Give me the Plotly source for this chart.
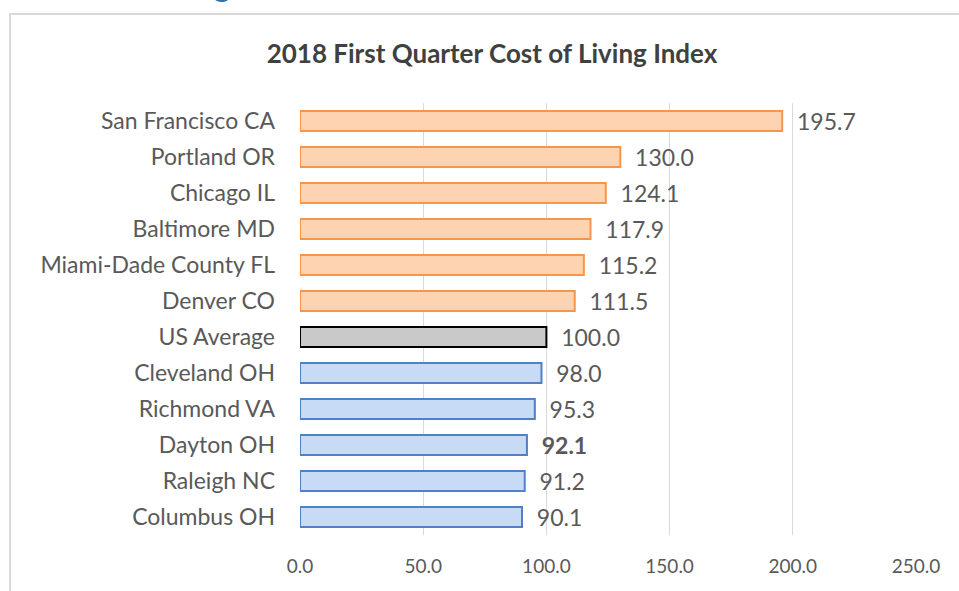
import plotly.graph_objects as go

cities = ["San Francisco CA", "Portland OR", "Chicago IL", "Baltimore MD",
          "Miami-Dade County FL", "Denver CO", "US Average", "Cleveland OH",
          "Richmond VA", "Dayton OH", "Raleigh NC", "Columbus OH"]
index_values = [195.7, 130.0, 124.1, 117.9, 115.2, 111.5, 100.0, 98.0, 95.3, 92.1, 91.2, 90.1]
groups = ["above", "above", "above", "above", "above", "above", "avg",
          "below", "below", "below", "below", "below"]
highlight = "Dayton OH"
x_ticks = [0, 50, 100, 150, 200, 250]

fill_map = {"above": "#fdd3b2", "avg": "#c9c9c9", "below": "#c8dbf6"}
line_map = {"above": "#f7964a", "avg": "#000000", "below": "#4f81c4"}

labels = []
for c, v in zip(cities, index_values):
    t = f"{v:.1f}"
    if c == highlight:
        t = f"<b>{t}</b>"
    labels.append("  " + t)

font_family = "Lato, 'Open Sans', sans-serif"

fig = go.Figure(go.Bar(
    x=index_values, y=cities, orientation="h",
    marker=dict(color=[fill_map[g] for g in groups],
                line=dict(color=[line_map[g] for g in groups], width=2)),
    width=0.55,
    text=labels, textposition="outside", cliponaxis=False,
    constraintext="none",
    textfont=dict(size=23, color="#595959", family=font_family),
    hoverinfo="x+y",
))

fig.update_layout(
    width=959, height=591,
    margin=dict(l=300, r=43, t=103, b=56),
    paper_bgcolor="white", plot_bgcolor="white",
    showlegend=False,
    font=dict(family=font_family, color="#595959"),
    title=dict(text="<b>2018 First Quarter Cost of Living Index</b>",
               x=492 / 959, xref="container", xanchor="center",
               y=1 - 54 / 591, yref="container", yanchor="middle",
               font=dict(size=26, color="#404040", family=font_family)),
    xaxis=dict(range=[0, 250], tickvals=x_ticks, tickformat=".1f",
               showgrid=True, gridcolor="#d9d9d9", gridwidth=1,
               zeroline=False, showline=False,
               tickfont=dict(size=19, color="#595959"),
               ticklabelstandoff=18, fixedrange=True),
    yaxis=dict(autorange="reversed", showgrid=False, zeroline=False,
               showline=False, tickfont=dict(size=23, color="#595959"),
               ticklabelstandoff=24),
    bargap=0.45,
    shapes=[dict(type="rect", xref="paper", yref="paper",
                 x0=(10 - 300) / 616, x1=1.2, y0=-0.3, y1=1 + 89 / 432,
                 line=dict(color="#d9d9d9", width=2), fillcolor="rgba(0,0,0,0)",
                 layer="below")],
    annotations=[dict(text="g", xref="paper", yref="paper",
                      x=(222 - 300) / 616, y=1 + (103 - 5) / 432,
                      xanchor="center", yanchor="bottom", showarrow=False,
                      font=dict(size=34, color="#2e74b5", family=font_family))],
)

fig.write_html("out.html", config={"displayModeBar": False},
               post_script="document.body.style.margin='0';document.body.style.overflow='hidden';")
